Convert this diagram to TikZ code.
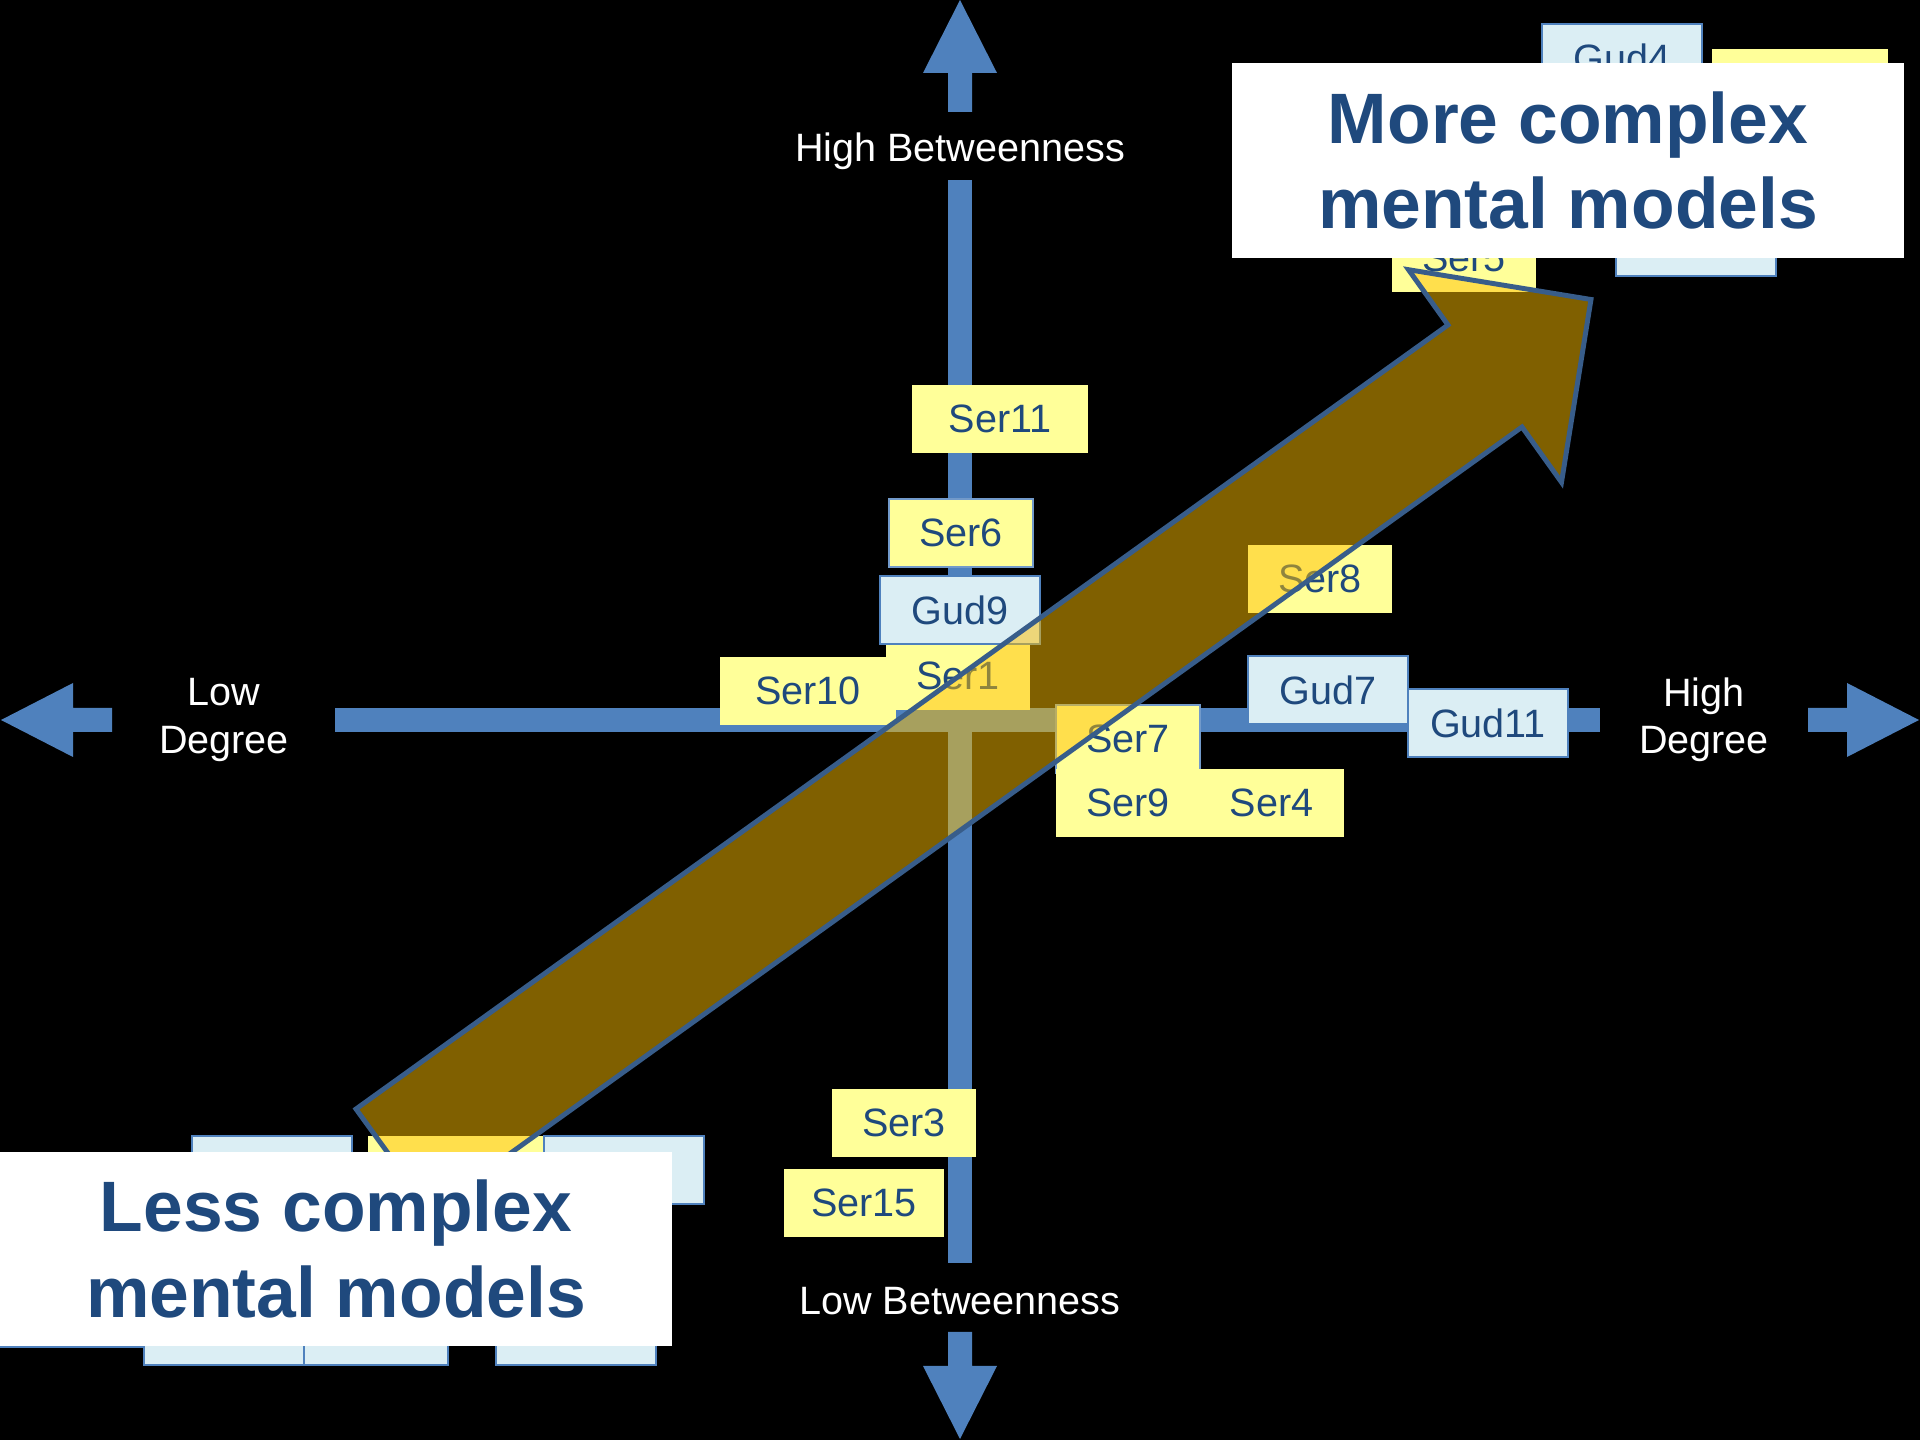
\documentclass[tikz,border=0pt]{standalone}
\usepackage{fontspec}
\setmainfont{Liberation Sans}
\usetikzlibrary{positioning}

\definecolor{axisblue}{RGB}{79,129,189}
\definecolor{serfill}{RGB}{255,255,153}
\definecolor{gudfill}{RGB}{219,238,244}
\definecolor{labelblue}{RGB}{31,73,125}
\definecolor{trendgold}{RGB}{255,192,0}
\definecolor{trendline}{RGB}{56,93,138}

\newcommand{\chipfont}{\fontsize{11.25}{13.4}\selectfont}
\newcommand{\bannerfont}{\fontsize{20.3}{24.4}\selectfont\bfseries}

\begin{document}
\begin{tikzpicture}[x=0.01cm, y=-0.01cm,
  ser/.style={rectangle, fill=serfill, text=labelblue, inner sep=0pt,
              minimum width=1.44cm, minimum height=0.68cm, font=\chipfont},
  wide/.style={minimum width=1.76cm},
  gud/.style={ser, fill=gudfill, draw=axisblue, line width=0.7pt,
              minimum width=1.6cm},
  edged/.style={draw=axisblue!80, line width=0.5pt},
  axislabel/.style={text=white, font=\chipfont, align=center, inner sep=0pt},
  banner/.style={rectangle, fill=white, text=labelblue, font=\bannerfont,
                 align=center, inner sep=0pt, minimum width=6.72cm,
                 minimum height=1.94cm}
]
  \useasboundingbox (0,0) rectangle (1920,1440);
  \fill[black] (0,0) rectangle (1920,1440);

  % degree axis (horizontal)
  \fill[axisblue] (1,720) -- (73,683) -- (73,708) -- (112,708) -- (112,732)
    -- (73,732) -- (73,757) -- cycle;
  \fill[axisblue] (335,708) rectangle (1600,732);
  \fill[axisblue] (1919,720) -- (1847,683) -- (1847,708) -- (1808,708)
    -- (1808,732) -- (1847,732) -- (1847,757) -- cycle;
  % betweenness axis (vertical)
  \fill[axisblue] (960,0) -- (923,73) -- (948,73) -- (948,112) -- (972,112)
    -- (972,73) -- (997,73) -- cycle;
  \fill[axisblue] (948,180) rectangle (972,1263);
  \fill[axisblue] (960,1439) -- (923,1366) -- (948,1366) -- (948,1332)
    -- (972,1332) -- (972,1366) -- (997,1366) -- cycle;

  \node[axislabel, anchor=base] (hibtw) at (960,162) {High Betweenness};
  \node[axislabel, anchor=base] (lobtw) at (960,1315) {Low Betweenness};
  \node[axislabel] (lodeg) at (224,720) {Low\\Degree};
  \node[axislabel] (hideg) at (1704,720) {High\\Degree};

  % actors near the centre
  \node[ser, wide] (ser11) at (1000,419) {Ser11};
  \node[ser, edged] (ser6) at (961,533) {Ser6};
  \node[ser] (ser1) at (958,676) {Ser1};
  \node[gud] (gud9) at (960,610) {Gud9};
  \node[ser, wide] (ser10) at (808,691) {Ser10};
  \node[ser] (ser8) at (1320,579) {Ser8};
  \node[gud] (gud7) at (1328,690) {Gud7};
  \node[gud] (gud11) at (1488,723) {Gud11};
  \node[ser, edged] (ser7) at (1128,739) {Ser7};
  \node[ser] (ser9) at (1128,803) {Ser9};
  \node[ser, right=-0.02cm of ser9] (ser4) {Ser4};
  \node[ser] (ser3) at (904,1123) {Ser3};
  \node[ser, minimum width=1.6cm] (ser15) at (864,1203) {Ser15};

  % top right cluster
  \node[gud] (gud4) at (1622,58) {Gud4};
  \node[ser, wide] (serTR) at (1800,83) {};
  \node[ser] (ser5) at (1464,258) {Ser5};
  \node[gud] (gudTR) at (1696,242) {};

  % bottom left cluster
  \node[gud] (gudBL1) at (272,1170) {};
  \node[ser, wide] (serBL) at (456,1170) {};
  \node[gud] (gudBL2) at (624,1170) {};
  \node[gud] (gudBL3) at (80,1313) {};
  \node[gud] (gudBL5) at (368,1331) {};
  \node[gud] (gudBL4) at (224,1331) {};
  \node[gud] (gudBL6) at (576,1331) {};

  % trend arrow
  \filldraw[fill=trendgold, fill opacity=0.5, draw=trendline,
            line width=1.4pt, line join=miter]
    (356,1109) -- (1448,325) -- (1408.5,269.7) -- (1591,299.5)
    -- (1561.5,482.3) -- (1522,427) -- (430,1211) -- cycle;

  \node[banner] (more) at (1568,160.5) {More complex\\mental models};
  \node[banner] (less) at (336,1249) {Less complex\\mental models};
\end{tikzpicture}
\end{document}
